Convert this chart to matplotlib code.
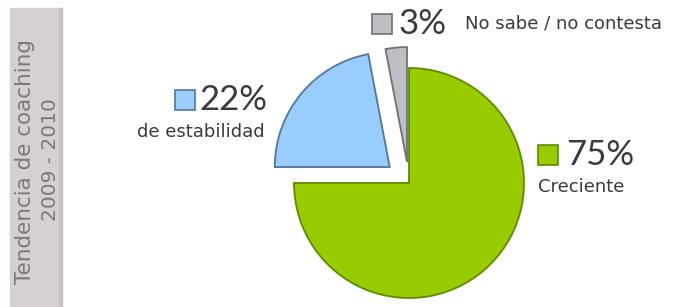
import matplotlib.pyplot as plt
from matplotlib.patches import Rectangle

# data
categories = ["Creciente", "de estabilidad", "No sabe / no contesta"]
shares = [75, 22, 3]
colors = ["#99cc00", "#99ccff", "#bebec4"]
edge_colors = ["#5c8c00", "#52769a", "#707078"]
explode = [0, 25, 21]  # pixels (pie offsets are in data units)

W, H = 682, 307
fig = plt.figure(figsize=(W / 100, H / 100), dpi=100)
ax = fig.add_axes([0, 0, 1, 1])

radius = 115
center = (409, H - 183)

wedges, _ = ax.pie(
    shares,
    colors=colors,
    explode=explode,
    startangle=90,
    counterclock=False,
    radius=radius,
    center=center,
    wedgeprops=dict(linewidth=1.3),
)
for w, ec in zip(wedges, edge_colors):
    w.set_edgecolor(ec)

ax.set_xlim(0, W)
ax.set_ylim(0, H)
ax.set_aspect("equal")
ax.axis("off")

# side band
ax.add_patch(Rectangle((10, 0), 52, H - 8, color="#d6d0d0", zorder=0))
ax.add_patch(Rectangle((59, 0), 3, H - 8, color="#c8c4c4", zorder=0))
ax.text(25, H - 162, "Tendencia de coaching", rotation=90,
        ha="center", va="center", fontsize=15.5, color="#7a7a7a",
        family="DejaVu Sans")
ax.text(51, H - 160, "2009 - 2010", rotation=90,
        ha="center", va="center", fontsize=14.5, color="#7a7a7a",
        family="DejaVu Sans")

# labels: (square x, square y top, pct x, pct y, name x, name y)
label_pos = [
    (538, 145, 566, 155, 538, 187),
    (175, 90, 199, 100, 137, 132),
    (372, 14, 399, 24, 465, 24),
]
txt = "#3a3a3a"
for name, pct, col, ec, (sx, sy, px, py, nx, ny) in zip(
        categories, shares, colors, edge_colors, label_pos):
    ax.add_patch(Rectangle((sx, H - sy - 20), 20, 20, facecolor=col,
                           edgecolor=ec, linewidth=1.2))
    ax.text(px, H - py, f"{pct}%", fontsize=25, color=txt,
            ha="left", va="center", family="Lato")
    ax.text(nx, H - ny, name, fontsize=13, color=txt,
            ha="left", va="center", family="DejaVu Sans")

fig.savefig("out.png", dpi=100)
